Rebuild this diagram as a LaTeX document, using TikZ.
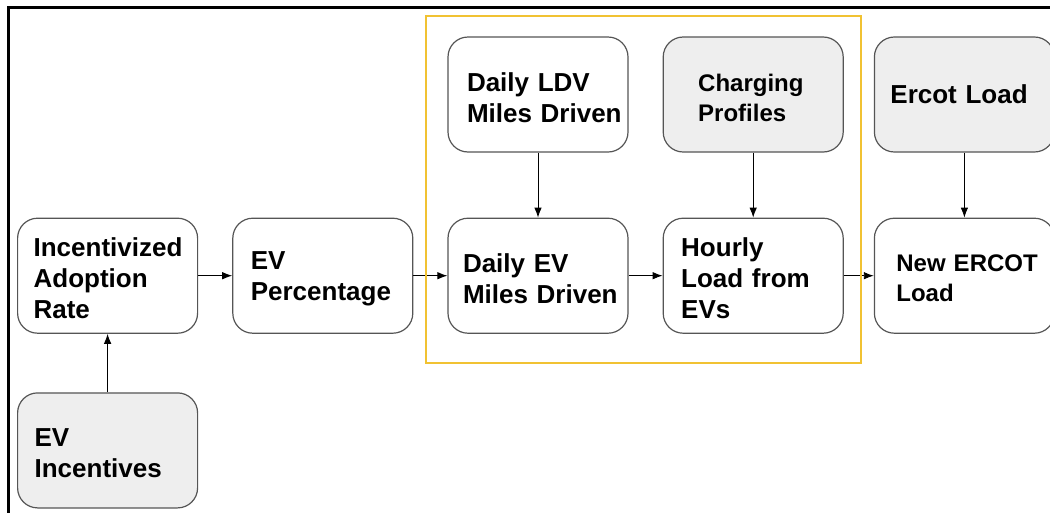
\documentclass[tikz,border=0pt]{standalone}
\usepackage{fontspec}
\setmainfont{Liberation Sans}
\usetikzlibrary{arrows.meta,positioning}
\definecolor{boxgray}{RGB}{238,238,238}
\definecolor{edgegray}{RGB}{85,85,85}
\definecolor{hlyellow}{RGB}{241,194,50}

\begin{document}
\begin{tikzpicture}[x=1pt, y=-1pt,
  every node/.style={font=\fontsize{26}{31}\selectfont\bfseries},
  box/.style={draw=edgegray, line width=1.2pt, rounded corners=20pt,
    minimum height=115pt, text width=148pt, inner xsep=16pt, align=left,
    execute at begin node={\hyphenpenalty=10000\relax},
    execute at end node={\endgraf\vspace*{-6pt}}},
  inputbox/.style={box, fill=boxgray},
  smalltext/.style={font=\fontsize{24}{30}\selectfont\bfseries},
  flow/.style={-{Latex[length=10pt,width=7.5pt]}, line width=0.9pt, draw=black}]
  \useasboundingbox (0,0) rectangle (1050,512);
  % outer frame
  \draw[line width=3pt] (8,540) -- (8,7) -- (1080,7);
  % main chain
  \node[box, text width=142pt, inner xsep=19pt] (ldv) at (538,94.5) {Daily LDV\\Miles~Driven};
  \node[box, below=65pt of ldv, text width=150pt, inner xsep=15pt] (dev) {Daily EV\\Miles~Driven};
  \node[box, left=34pt of dev, text width=144pt, inner xsep=18pt] (evp) {EV\\Percentage};
  \node[box, left=34pt of evp] (iar) {Incentivized\\Adoption\\Rate};
  \node[inputbox, below=58.5pt of iar, text width=146pt, inner xsep=17pt] (evi) {EV\\Incentives};
  \node[box, right=34pt of dev, text width=144pt, inner xsep=18pt] (hourly) {Hourly\\Load from\\EVs};
  \node[inputbox, smalltext, above=65pt of hourly, text width=110pt, inner xsep=35pt] (prof) {Charging\\Profiles};
  \node[box, smalltext, right=30pt of hourly, text width=136pt, inner xsep=22pt] (ercot) {New~ERCOT\\Load};
  \node[inputbox, above=65pt of ercot] (ercotload) {Ercot Load};
  % connectors
  \draw[flow] (iar) -- (evp);
  \draw[flow] (evp) -- (dev);
  \draw[flow] (dev) -- (hourly);
  \draw[flow] (hourly) -- (ercot);
  \draw[flow] (ldv) -- (dev);
  \draw[flow] (prof) -- (hourly);
  \draw[flow] (ercotload) -- (ercot);
  \draw[flow] (evi) -- (iar);
  % highlight of the load block
  \draw[hlyellow, line width=2.5pt] (426,16) rectangle (861,363);
\end{tikzpicture}
\end{document}
